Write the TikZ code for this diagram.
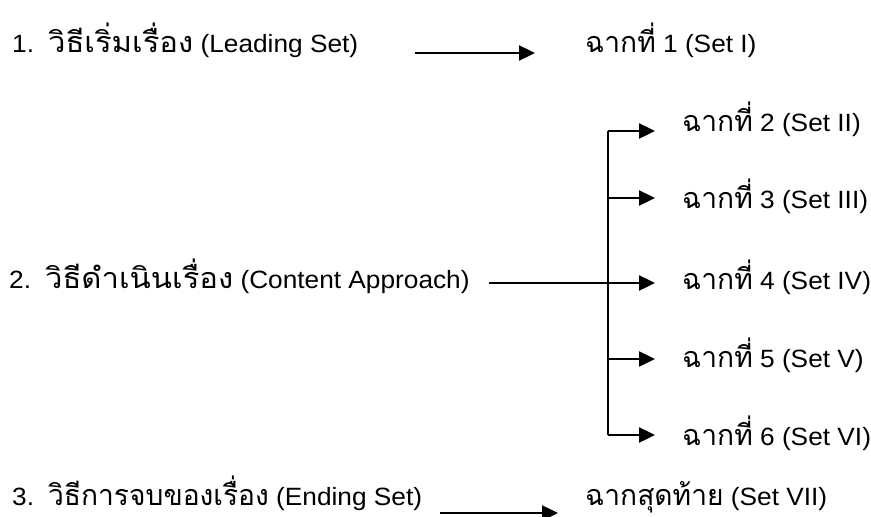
\documentclass[tikz,border=0pt]{standalone}
\usepackage{fontspec}
\setmainfont{Liberation Sans}[FakeStretch=1.05]
\newfontfamily\thaifont[Script=Thai,Scale=1.15,FakeStretch=0.98]{Loma}
\newfontfamily\thaiwide[Script=Thai,Scale=1.15,FakeStretch=1.08]{Loma}
\newcommand{\thx}[1]{{\thaifont #1}}
\newcommand{\thw}[1]{{\thaiwide #1}}
\usetikzlibrary{arrows.meta}
\begin{document}
\begin{tikzpicture}[x=1pt,y=-1pt,
  lbl/.style={anchor=base west, inner sep=0pt, font=\fontsize{25}{30}\selectfont},
  arr/.style={line width=2.4pt, -{Triangle[length=16pt,width=15pt]}},
  ln/.style={line width=2.4pt}]
\useasboundingbox (0,0) rectangle (871,517);
% left column
\node[lbl] (L1) at (12,52)  {1.\hspace{14pt}\thw{วิธีเริ่มเรื่อง} (Leading Set)};
\node[lbl] (L2) at (9,288)  {2.\hspace{14pt}\thw{วิธีดำเนินเรื่อง} (Content Approach)};
\node[lbl] (L3) at (12,505) {3.\hspace{14pt}\thx{วิธีการจบของเรื่อง} (Ending Set)};
% right column
\node[lbl] (R1) at (585,52)  {\thx{ฉากที่} 1 (Set I)};
\node[lbl] (S2) at (682,131) {\thx{ฉากที่} 2 (Set II)};
\node[lbl] (S3) at (682,208) {\thx{ฉากที่} 3 (Set III)};
\node[lbl] (S4) at (682,289) {\thx{ฉากที่} 4 (Set IV)};
\node[lbl] (S5) at (682,367) {\thx{ฉากที่} 5 (Set V)};
\node[lbl] (S6) at (682,445) {\thx{ฉากที่} 6 (Set VI)};
\node[lbl] (R7) at (585,505) {\thx{ฉากสุดท้าย} (Set VII)};
% connector ends
\coordinate (a1s) at (415,53);  \coordinate (a1e) at (535,53);
\coordinate (a7s) at (440,513); \coordinate (a7e) at (558,513);
\coordinate (m4s) at (489,283); \coordinate (b4) at (655,283);
\coordinate (k2) at (608,131); \coordinate (b2) at (655,131);
\coordinate (k3) at (608,198); \coordinate (b3) at (655,198);
\coordinate (k5) at (608,359); \coordinate (b5) at (655,359);
\coordinate (k6) at (608,435); \coordinate (b6) at (655,435);
% connectors
\draw[arr] (a1s) -- (a1e);
\draw[arr] (a7s) -- (a7e);
\draw[ln] (k2) -- (k6);
\draw[arr] (m4s) -- (b4);
\foreach \i in {2,3,5,6} \draw[arr] (k\i) -- (b\i);
\end{tikzpicture}
\end{document}
